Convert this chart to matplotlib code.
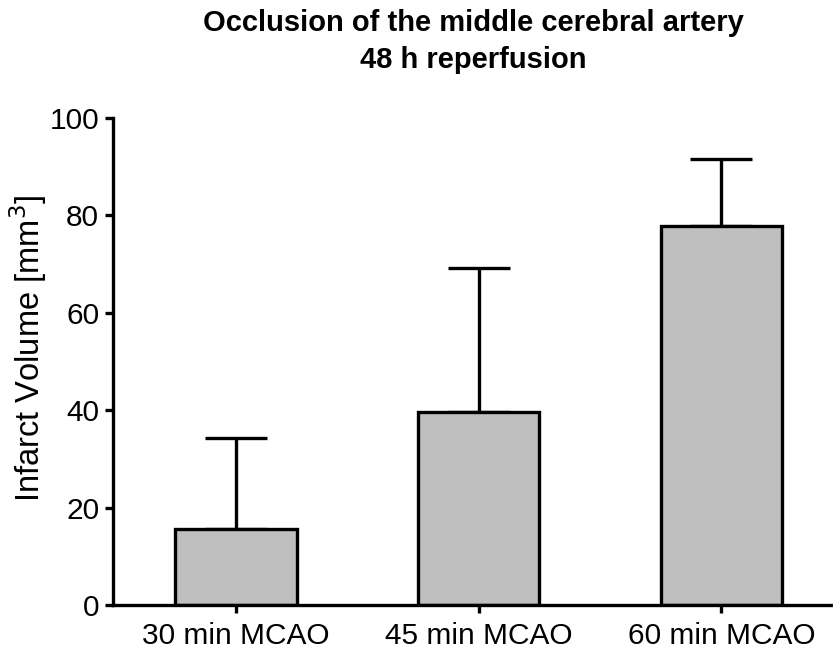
import numpy as np
import matplotlib.pyplot as plt

plt.rcParams['font.family'] = ['Liberation Sans', 'DejaVu Sans']

groups = ["30 min MCAO", "45 min MCAO", "60 min MCAO"]
volume = [15.7, 39.6, 77.8]
sd = [18.6, 29.6, 13.8]

fig = plt.figure(figsize=(8.33, 6.51), dpi=100)
ax = fig.add_axes([0.1357, 0.0707, 0.8643, 0.748])

x = np.arange(len(groups))
ax.bar(x, volume, width=0.5, color="#bfbfbf", edgecolor="black", linewidth=2.4, zorder=2)
ax.errorbar(x, volume, yerr=[np.zeros(len(sd)), sd], fmt="none", ecolor="black",
            elinewidth=2.4, capsize=22, capthick=2.4, zorder=1)

ax.set_xlim(-0.506, 2.46)
ax.set_ylim(0, 100)
ax.set_yticks(range(0, 101, 20))
ax.set_xticks(x)
ax.set_xticklabels(groups)
for s in ["top", "right"]:
    ax.spines[s].set_visible(False)
for s in ["left", "bottom"]:
    ax.spines[s].set_linewidth(2.4)
ax.tick_params(axis="both", width=2.4, length=6, labelsize=21.5)
ax.tick_params(axis="x", pad=6)
ax.tick_params(axis="y", pad=4)
ax.set_ylabel("Infarct Volume [mm$^3$]", fontsize=23.5)
ax.yaxis.set_label_coords(-0.118, 0.528)
ax.yaxis.label.set_va("center")
ax.set_title("Occlusion of the middle cerebral artery\n48 h reperfusion",
             fontsize=21, fontweight="bold", pad=36, linespacing=1.4)

fig.savefig("out.png")
